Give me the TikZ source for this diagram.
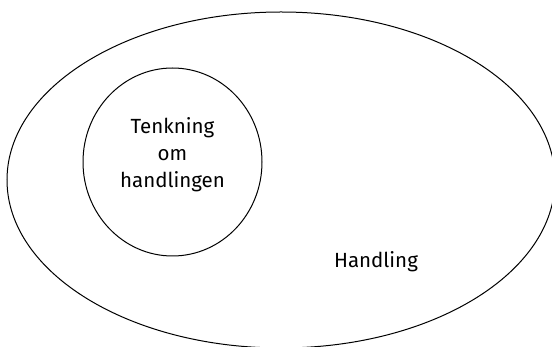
\documentclass[tikz,border=0pt]{standalone}
\usepackage{fontspec}
\setmainfont{Fira Sans}
\usetikzlibrary{positioning, shapes.geometric}
\tikzset{
      set box/.style={
		ellipse,
		draw=black,
		line width=1pt,
		inner sep=0pt,
	  },
  		set label/.style={
    	font=\fontsize{20.5}{27}\selectfont,
    	align=center,
      }
  	}
\begin{document}
\begin{tikzpicture}[x=1pt, y=-1pt]
    \useasboundingbox (0,0) rectangle (552,347);
    \clip (0,0) rectangle (552,347);
    \node [set box, minimum width=548pt, minimum height=336pt] (act) at (281,180) {};
    \node [set box, minimum width=179pt, minimum height=188pt] (think) at (172.5,162) {};
    \node [set label] (thinklabel) at (172.5,155) {Tenkning\\om\\handlingen};
    \node [set label] (actlabel) at (376,262) {Handling};
  \end{tikzpicture}
\end{document}
